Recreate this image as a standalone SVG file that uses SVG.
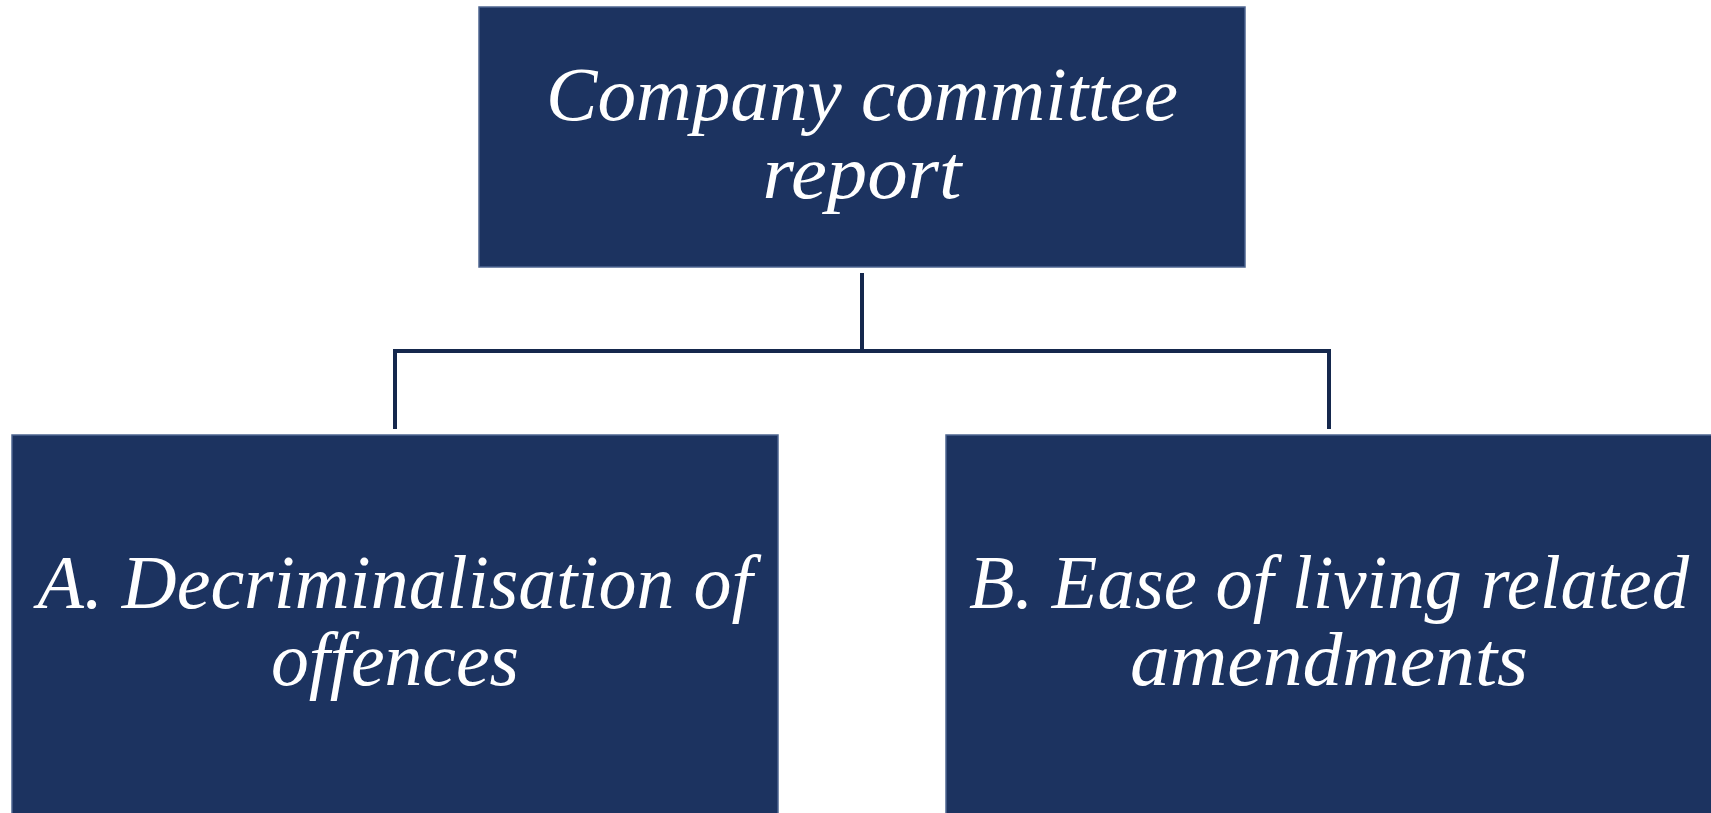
<svg xmlns="http://www.w3.org/2000/svg" width="1711" height="813" viewBox="0 0 1711 813">
  <style>
    .box { fill: #1c3360; stroke: #4d6590; stroke-width: 1.5; }
    .label { fill: #ffffff; font-family: "Liberation Serif", "DejaVu Serif", serif; font-style: italic; font-size: 76px; text-anchor: middle; }
    .link { fill: none; stroke: #15284d; stroke-width: 4; stroke-linejoin: miter; }
  </style>
  <rect width="1711" height="813" fill="#ffffff"/>

  <!-- hierarchy connectors -->
  <g id="connectors">
    <line class="link" x1="862" y1="273" x2="862" y2="351"/>
    <polyline class="link" points="395,429 395,351 1329,351 1329,429"/>
  </g>

  <g id="node-report">
    <rect class="box" x="479" y="7" width="766" height="260"/>
    <text class="label" x="862" y="120" textLength="632" lengthAdjust="spacingAndGlyphs">Company committee</text>
    <text class="label" x="862" y="198" textLength="199" lengthAdjust="spacingAndGlyphs">report</text>
  </g>

  <g id="node-decriminalisation">
    <rect class="box" x="12" y="435" width="766" height="390"/>
    <text class="label" x="395" y="608" textLength="715" lengthAdjust="spacingAndGlyphs">A. Decriminalisation of</text>
    <text class="label" x="395" y="685" textLength="248" lengthAdjust="spacingAndGlyphs">offences</text>
  </g>

  <g id="node-ease-of-living">
    <rect class="box" x="946" y="435" width="776" height="390"/>
    <text class="label" x="1329" y="608" textLength="720" lengthAdjust="spacingAndGlyphs">B. Ease of living related</text>
    <text class="label" x="1329" y="685" textLength="398" lengthAdjust="spacingAndGlyphs">amendments</text>
  </g>
</svg>
